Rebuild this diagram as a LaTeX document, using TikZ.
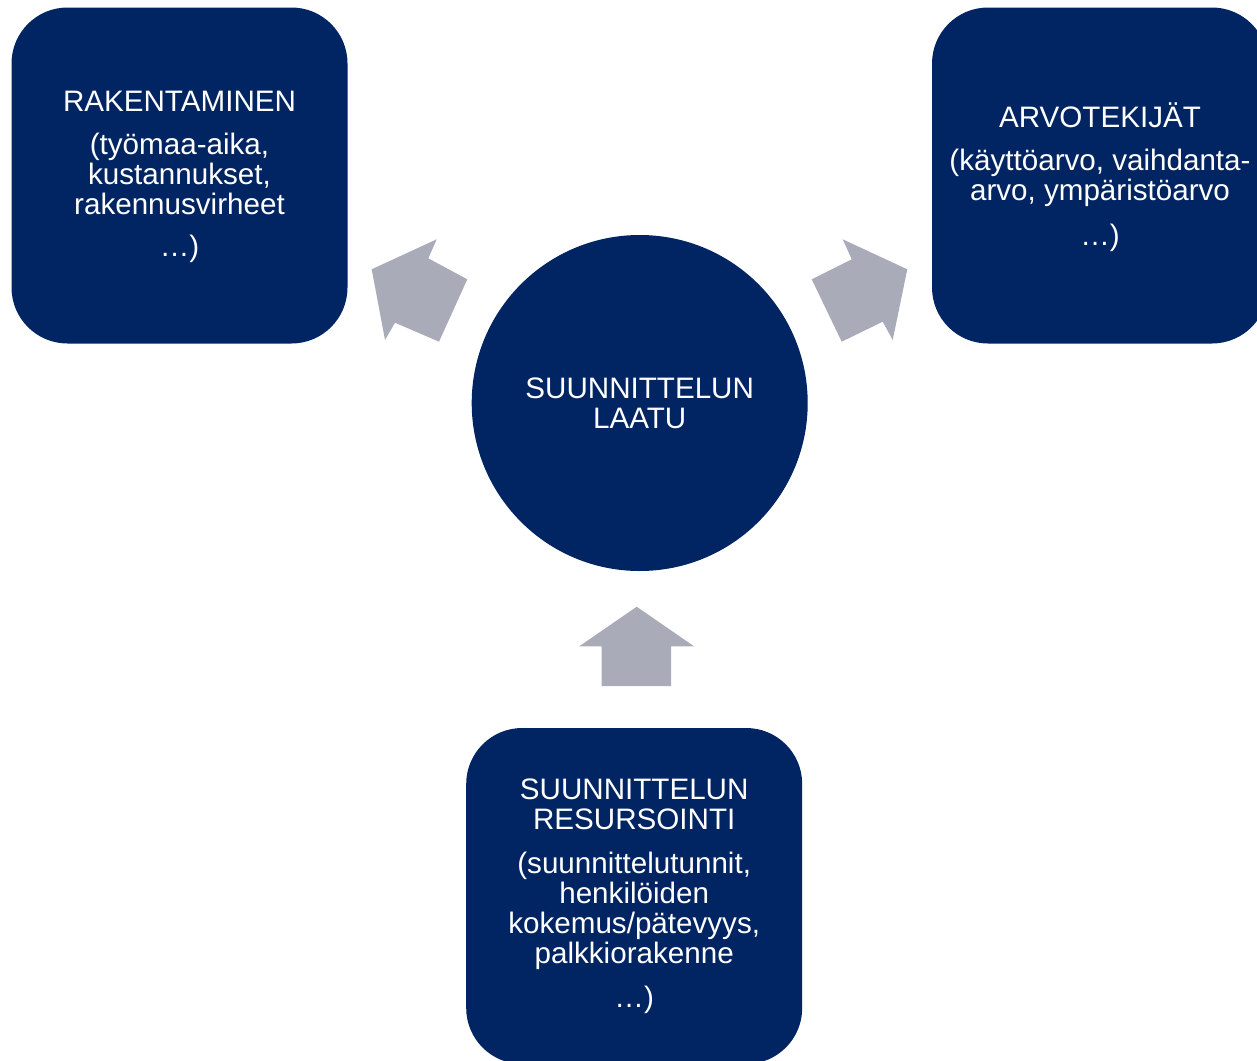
\documentclass[tikz,border=0pt]{standalone}
\usepackage{fontspec}
\setmainfont{Liberation Sans}
\definecolor{navy}{HTML}{002562}
\definecolor{arrowgray}{HTML}{A9ABB9}
\tikzset{
  box/.style={fill=navy, rounded corners=56pt, minimum width=336pt, minimum height=336pt,
    inner sep=0pt, text=white, align=center,
    font=\fontsize{29.6pt}{30pt}\selectfont},
  hub/.style={fill=navy, circle, minimum size=336pt, inner sep=0pt, text=white, align=center,
    font=\fontsize{29.6pt}{30pt}\selectfont},
  blockarrow/.style={fill=arrowgray}
}
\begin{document}
\begin{tikzpicture}[x=1pt,y=-1pt]
\useasboundingbox (0,0) rectangle (1257,1060);
\clip (0,0) rectangle (1257,1060);
\node[fill=navy, rounded corners=56pt, minimum width=336pt, minimum height=336pt] (rak) at (179.5,175.5) {};
\node[box, fill=none, minimum size=0pt] (raktext) at (179.5,177) {RAKENTAMINEN\\[13pt](työmaa-aika,\\kustannukset,\\rakennusvirheet\\[12pt]…)};
\node[fill=navy, rounded corners=56pt, minimum width=336pt, minimum height=336pt] (arvo) at (1100,175.5) {};
\node[box, fill=none, minimum size=0pt] (arvotext) at (1100,177) {ARVOTEKIJÄT\\[13pt](käyttöarvo, vaihdanta-\\arvo, ympäristöarvo\\[15pt]…)};
\node[hub] (laatu) at (639.7,403) {SUUNNITTELUN\\LAATU};
\node[box] (res) at (634.2,896) {SUUNNITTELUN\\RESURSOINTI\\[14pt](suunnittelutunnit,\\henkilöiden\\kokemus/pätevyys,\\palkkiorakenne\\[14pt]…)};
% block arrows
\fill[blockarrow] (371.7,269.3) -- (436.7,239.3) -- (428.3,258.3) -- (467.3,279.3) -- (439,341.7) -- (395,322.7) -- (385,340) -- cycle;
\fill[blockarrow] (907.3,269.3) -- (842.7,239.3) -- (851.7,259.3) -- (811.7,279.3) -- (841.7,341.7) -- (882.7,321.7) -- (892.7,340) -- cycle;
\fill[blockarrow] (636.7,606.7) -- (694,646.3) -- (671,646.3) -- (671,686) -- (601.7,686) -- (601.7,646.3) -- (579.3,646.3) -- cycle;
\end{tikzpicture}
\end{document}
